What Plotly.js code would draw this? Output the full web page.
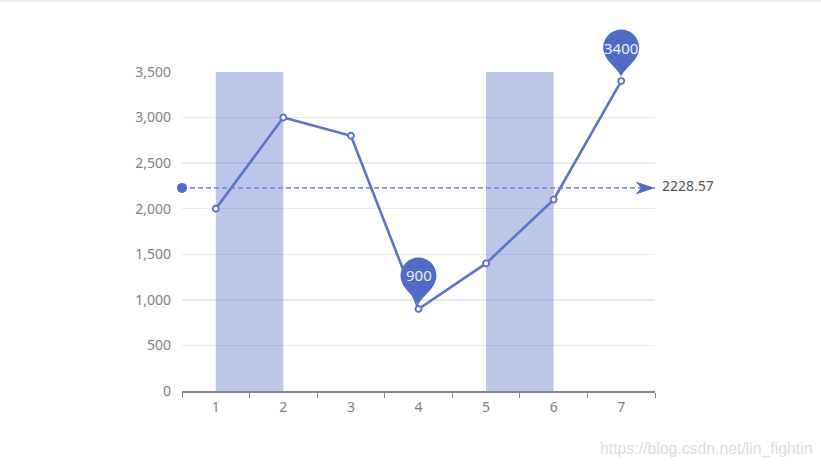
<!DOCTYPE html>
<html>
<head>
<meta charset="utf-8">
<script src="https://cdn.plot.ly/plotly-3.0.1.min.js"></script>
<style>html,body{margin:0;padding:0;background:#fff}#chart{width:821px;height:469px}</style>
</head>
<body>
<div id="chart"></div>
<script>
const categories = [1, 2, 3, 4, 5, 6, 7];
const seriesValues = [2000, 3000, 2800, 900, 1400, 2100, 3400];
const meanValue = 2228.57;
const meanRange = [0.5, 7.5];
const bands = [[1, 2], [5, 6]];
const yMax = 3500;
const pins = [[4, 900], [7, 3400]];
const yTicks = [0, 500, 1000, 1500, 2000, 2500, 3000, 3500];
const watermark = 'https://blog.csdn.net/lin_fightin';

const BLUE = '#5b74c9', PIN = '#516cc4', AX = '#7c7e88', FONT = '"Noto Sans", "Open Sans", sans-serif';
const PIN_PATH = 'M0,4 C-2,12 -18,20 -18,33.5 C-18,43.4 -9.9,51.5 0,51.5 C9.9,51.5 18,43.4 18,33.5 C18,20 2,12 0,4 Z';
const ARROW_PATH = 'M0,0 L-19.5,6.5 L-14,0 L-19.5,-6.5 Z';

const traces = [
  {x: meanRange, y: meanRange.map(() => meanValue), mode: 'lines', cliponaxis: false,
   line: {color: '#7b90da', width: 1.6, dash: '5px,3px'}, hoverinfo: 'skip', showlegend: false},
  {x: [meanRange[0]], y: [meanValue], mode: 'markers', cliponaxis: false,
   marker: {symbol: 'circle', size: 10, color: PIN, opacity: 1, line: {width: 0}}, hoverinfo: 'skip', showlegend: false},
  {x: categories, y: seriesValues, mode: 'lines+markers', cliponaxis: false,
   line: {color: BLUE, width: 2.6},
   marker: {symbol: 'circle', size: 6, color: '#fff', line: {color: BLUE, width: 1.9}},
   showlegend: false}
];

const shapes = bands.map(b => ({type: 'rect', layer: 'between', xref: 'x', yref: 'y', x0: b[0], x1: b[1], y0: 0, y1: yMax,
  fillcolor: 'rgba(84,112,198,0.4)', line: {width: 0}}));
pins.forEach(p => shapes.push({type: 'path', layer: 'above', xref: 'x', yref: 'paper', xsizemode: 'pixel', ysizemode: 'pixel',
  xanchor: p[0], yanchor: p[1] / yMax, path: PIN_PATH, fillcolor: PIN, line: {width: 0}}));
shapes.push({type: 'path', layer: 'above', xref: 'x', yref: 'y', xsizemode: 'pixel', ysizemode: 'pixel',
  xanchor: meanRange[1], yanchor: meanValue, path: ARROW_PATH, fillcolor: PIN, line: {width: 0}});
shapes.push({type: 'line', xref: 'paper', yref: 'paper', x0: -1, x1: 2, y0: 1.2225, y1: 1.2225, line: {color: '#dcdcdc', width: 1}});

const annotations = pins.map(p => ({x: p[0], y: p[1], xref: 'x', yref: 'y', yshift: 33.5, showarrow: false,
  text: String(p[1]), font: {family: FONT, size: 15, color: '#eef0f8'}}));
annotations.push({x: meanRange[1], y: meanValue, xref: 'x', yref: 'y', xanchor: 'left', xshift: 4.5, yshift: 2, showarrow: false,
  text: String(meanValue), font: {family: FONT, size: 14, color: '#555555'}});
annotations.push({x: 1, y: 0, xref: 'paper', yref: 'paper', xanchor: 'left', yanchor: 'middle', xshift: -57, yshift: -58, showarrow: false,
  text: watermark, font: {family: '"Liberation Sans", sans-serif', size: 15.8, color: '#dedede'}});

const layout = {
  width: 821, height: 469, paper_bgcolor: '#fff', plot_bgcolor: '#fff',
  margin: {l: 182, r: 166, t: 71.5, b: 77.5, pad: 0},
  font: {family: FONT, size: 14, color: AX},
  xaxis: {range: meanRange, tickmode: 'array', tickvals: categories, ticktext: categories.map(String), ticks: '',
    ticklabelstandoff: 3, showgrid: false, zeroline: false, showline: true, linecolor: '#85868f', linewidth: 1.5,
    tickfont: {family: FONT, size: 14, color: AX},
    minor: {tick0: 0.5, dtick: 1, ticks: 'outside', ticklen: 5, tickwidth: 1, tickcolor: '#85868f', showgrid: false}},
  yaxis: {range: [0, yMax], tickmode: 'array', tickvals: yTicks, tickformat: ',d', ticks: '', ticklen: 0,
    ticklabelstandoff: 10, showgrid: true, gridcolor: '#E6EAF6', gridwidth: 1.5, zeroline: false, showline: false,
    tickfont: {family: FONT, size: 14, color: AX}},
  shapes, annotations
};
Plotly.newPlot('chart', traces, layout, {displayModeBar: false, staticPlot: true});
</script>
</body>
</html>
